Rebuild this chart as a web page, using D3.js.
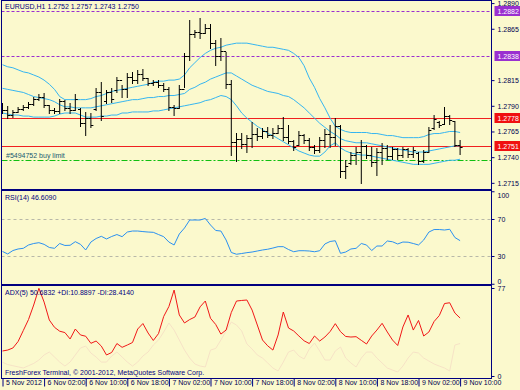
<!DOCTYPE html>
<html><head><meta charset="utf-8">
<script src="https://cdn.jsdelivr.net/npm/d3@7"></script>
<style>
html,body{margin:0;padding:0;background:#fbf9cd;}
svg{display:block;}
text{font-family:"Liberation Sans",Arial,sans-serif;font-size:7px;}
</style></head><body><svg id="c" width="520" height="390"></svg>
<script>
// ---------------- DATA ----------------
const barOpen = [1.2790,1.2786,1.2781,1.2784,1.2787,1.2789,1.2792,1.2797,1.2799,1.2791,
 1.2786,1.2785,1.2795,1.2788,1.2786,1.2787,1.2773,1.2778,1.2787,1.2803,
 1.2795,1.2803,1.2805,1.2815,1.2806,1.2818,1.2815,1.2821,1.2817,1.2812,
 1.2813,1.2810,1.2806,1.2789,1.2788,1.2806,1.2838,1.2860,1.2862,1.2861,
 1.2866,1.2851,1.2838,1.2843,1.2811,1.2755,1.2758,1.2753,1.2759,1.2763,
 1.2761,1.2765,1.2762,1.2764,1.2768,1.2760,1.2756,1.2752,1.2762,1.2757,
 1.2750,1.2747,1.2757,1.2763,1.2760,1.2770,1.2727,1.2734,1.2742,1.2745,
 1.2751,1.2742,1.2735,1.2745,1.2749,1.2741,1.2748,1.2742,1.2748,1.2743,
 1.2744,1.2736,1.2745,1.2768,1.2774,1.2772,1.2780,1.2775,1.2752];
const barHigh = [1.2793,1.2790,1.2786,1.2789,1.2791,1.2794,1.2799,1.2801,1.2802,1.2791,
 1.2788,1.2797,1.2796,1.2793,1.2801,1.2788,1.2784,1.2783,1.2807,1.2813,
 1.2805,1.2807,1.2818,1.2810,1.2822,1.2823,1.2825,1.2826,1.2817,1.2815,
 1.2815,1.2812,1.2808,1.2791,1.2810,1.2841,1.2874,1.2864,1.2875,1.2870,
 1.2870,1.2854,1.2856,1.2842,1.2815,1.2764,1.2764,1.2762,1.2774,1.2768,
 1.2768,1.2769,1.2768,1.2771,1.2779,1.2771,1.2757,1.2765,1.2763,1.2759,
 1.2752,1.2760,1.2767,1.2771,1.2778,1.2771,1.2737,1.2745,1.2750,1.2757,
 1.2752,1.2750,1.2749,1.2754,1.2752,1.2750,1.2749,1.2750,1.2749,1.2750,
 1.2745,1.2747,1.2769,1.2781,1.2775,1.2789,1.2781,1.2775,1.2757];
const barLow = [1.2783,1.2778,1.2779,1.2784,1.2786,1.2788,1.2791,1.2796,1.2789,1.2783,
 1.2783,1.2783,1.2786,1.2783,1.2786,1.2770,1.2762,1.2769,1.2786,1.2776,
 1.2793,1.2794,1.2803,1.2799,1.2799,1.2812,1.2812,1.2815,1.2810,1.2810,
 1.2808,1.2804,1.2786,1.2781,1.2788,1.2808,1.2835,1.2857,1.2856,1.2861,
 1.2846,1.2830,1.2835,1.2807,1.2742,1.2736,1.2749,1.2745,1.2750,1.2757,
 1.2759,1.2760,1.2759,1.2764,1.2757,1.2754,1.2747,1.2752,1.2754,1.2747,
 1.2744,1.2745,1.2750,1.2750,1.2752,1.2721,1.2720,1.2733,1.2733,1.2715,
 1.2739,1.2731,1.2723,1.2733,1.2738,1.2738,1.2738,1.2740,1.2740,1.2740,
 1.2733,1.2735,1.2745,1.2767,1.2769,1.2772,1.2772,1.2751,1.2743];
const barClose = [1.2786,1.2781,1.2784,1.2787,1.2789,1.2792,1.2797,1.2799,1.2791,1.2786,
 1.2785,1.2795,1.2788,1.2786,1.2797,1.2773,1.2778,1.2771,1.2803,1.2780,
 1.2803,1.2797,1.2815,1.2806,1.2818,1.2815,1.2821,1.2817,1.2812,1.2813,
 1.2810,1.2806,1.2789,1.2788,1.2806,1.2838,1.2860,1.2862,1.2861,1.2866,
 1.2851,1.2838,1.2843,1.2811,1.2755,1.2758,1.2753,1.2759,1.2763,1.2761,
 1.2765,1.2762,1.2764,1.2768,1.2760,1.2756,1.2750,1.2762,1.2757,1.2750,
 1.2747,1.2757,1.2763,1.2760,1.2770,1.2727,1.2731,1.2742,1.2745,1.2751,
 1.2742,1.2735,1.2745,1.2749,1.2741,1.2748,1.2742,1.2748,1.2743,1.2747,
 1.2736,1.2745,1.2766,1.2777,1.2771,1.2780,1.2776,1.2752,1.2750];

const bbUpper = [1.2830,1.2828,1.2827,1.2825,1.2823,1.2822,1.2820,1.2818,1.2815,1.2811,
 1.2806,1.2799,1.2796,1.2796,1.2796,1.2796,1.2796,1.2797,1.2799,1.2800,
 1.2802,1.2804,1.2805,1.2806,1.2807,1.2808,1.2809,1.2810,1.2811,1.2813,
 1.2814,1.2814,1.2815,1.2815,1.2816,1.2820,1.2827,1.2832,1.2837,1.2841,
 1.2844,1.2846,1.2847,1.2849,1.2850,1.2851,1.2851,1.2851,1.2850,1.2849,
 1.2848,1.2847,1.2847,1.2846,1.2845,1.2844,1.2841,1.2837,1.2829,1.2817,
 1.2808,1.2797,1.2788,1.2778,1.2770,1.2767,1.2765,1.2764,1.2764,1.2764,
 1.2764,1.2763,1.2763,1.2762,1.2761,1.2761,1.2760,1.2759,1.2759,1.2759,
 1.2759,1.2760,1.2762,1.2763,1.2763,1.2764,1.2765,1.2765,1.2764];
const bbMiddle = [1.2807,1.2806,1.2805,1.2804,1.2803,1.2801,1.2799,1.2798,1.2797,1.2796,
 1.2794,1.2791,1.2789,1.2789,1.2788,1.2788,1.2788,1.2788,1.2789,1.2790,
 1.2791,1.2792,1.2793,1.2794,1.2795,1.2796,1.2796,1.2797,1.2798,1.2798,
 1.2799,1.2799,1.2800,1.2800,1.2801,1.2802,1.2806,1.2808,1.2811,1.2813,
 1.2816,1.2818,1.2820,1.2822,1.2822,1.2819,1.2816,1.2813,1.2810,1.2808,
 1.2806,1.2804,1.2803,1.2802,1.2800,1.2799,1.2796,1.2792,1.2788,1.2783,
 1.2778,1.2773,1.2769,1.2765,1.2762,1.2758,1.2756,1.2755,1.2754,1.2754,
 1.2754,1.2753,1.2752,1.2751,1.2750,1.2749,1.2748,1.2747,1.2746,1.2745,
 1.2745,1.2745,1.2746,1.2747,1.2748,1.2749,1.2750,1.2751,1.2751];
const bbLower = [1.2783,1.2782,1.2781,1.2781,1.2780,1.2780,1.2779,1.2779,1.2779,1.2779,
 1.2780,1.2782,1.2783,1.2783,1.2783,1.2781,1.2779,1.2779,1.2779,1.2780,
 1.2780,1.2781,1.2781,1.2783,1.2783,1.2784,1.2784,1.2784,1.2784,1.2785,
 1.2785,1.2786,1.2787,1.2788,1.2789,1.2790,1.2791,1.2792,1.2793,1.2795,
 1.2796,1.2798,1.2800,1.2799,1.2796,1.2790,1.2783,1.2778,1.2774,1.2770,
 1.2767,1.2763,1.2761,1.2758,1.2755,1.2752,1.2749,1.2746,1.2744,1.2742,
 1.2741,1.2741,1.2745,1.2751,1.2754,1.2749,1.2746,1.2744,1.2743,1.2742,
 1.2742,1.2741,1.2740,1.2739,1.2738,1.2737,1.2736,1.2735,1.2734,1.2733,
 1.2733,1.2733,1.2733,1.2734,1.2735,1.2736,1.2737,1.2737,1.2738];

const rsiValues = [34.9,32.2,35.9,37.6,38.3,41.9,43.5,44.4,42.6,39.2,
 38.3,43.5,41.4,41.6,45.5,42.6,36.5,45.1,48.9,51.3,
 48.4,51.1,53.2,50.9,55.9,57.0,57.0,56.4,55.9,55.6,
 53.2,50.9,45.1,41.9,53.8,60.3,68.9,68.9,68.9,70.6,
 63.5,57.6,57.0,47.3,33.8,31.9,32.7,33.6,34.3,35.4,
 36.5,37.3,38.6,40.1,40.1,37.0,34.6,35.7,35.7,35.4,
 34.6,35.7,43.0,45.7,46.5,32.9,34.3,37.6,38.3,43.5,
 41.9,35.9,40.8,40.8,46.2,45.4,43.0,45.1,44.9,43.5,
 41.9,47.3,55.9,58.6,58.6,58.1,58.9,50.0,46.6];
const adxValues = [21.9,22.7,24.5,30.2,39.8,49.4,62.1,76.7,64.7,49.0,
 42.6,39.2,38.0,32.4,41.1,35.9,34.8,28.6,30.6,26.2,
 18.4,20.6,28.4,25.1,27.1,29.3,41.1,45.9,37.6,31.1,
 37.1,52.1,60.8,75.2,53.4,46.4,49.4,51.6,60.5,65.6,
 50.5,45.1,36.7,40.2,55.6,65.6,66.1,66.5,57.7,44.6,
 31.5,26.4,22.7,35.9,56.0,42.0,39.4,35.0,30.8,28.4,
 35.0,30.6,34.1,38.9,45.8,38.8,34.6,34.1,34.4,31.2,
 28.0,35.0,40.2,46.1,38.5,31.5,26.7,42.9,53.4,40.2,
 48.6,35.0,38.5,47.7,52.9,63.4,64.1,55.1,50.7];
const minusDiValues = [12,10,9,8,7,9,11,14,18.4,21.0,
 16.6,12.2,8.7,12.2,18.4,24.5,26.2,20.1,16.6,12.2,
 12.2,17.5,21.0,16.6,12.2,8.7,12.2,17.5,21.0,27.1,
 31.5,38.5,46.4,40.2,31.5,22.7,15.7,10.5,8.7,7.9,
 22.7,24.1,31.5,39.4,47.2,44.6,39.4,28.0,23.6,18.4,
 15.7,11.4,7.0,4.4,12.2,21.0,22.7,17.5,14.9,23.6,
 28.9,21.9,14.0,14.0,21.9,25.4,15.7,11.4,7.9,15.7,
 21.0,21.0,15.7,11.4,7.0,5.2,3.5,8.7,15.7,21.0,
 20.1,15.7,13.1,10.5,8.7,7.0,4.4,27.1,28.4];

const priceTicks = [1.2890,1.2865,1.2815,1.2790,1.2765,1.2740,1.2715];
const purpleLevels = [1.2882,1.2838];
const redLevels = [1.2778,1.2751];
const buyLimitLevel = 1.2737;
const rsiTicks = [100,70,30,0];
const rsiLevels = [70,30];
const adxTicks = [77,0];
const timeTickIndex = [0,8,16,24,32,40,48,56,64,72,80,88];
const timeTickLabels = ["5 Nov 2012","6 Nov 02:00","6 Nov 10:00","6 Nov 18:00","7 Nov 02:00","7 Nov 10:00","7 Nov 18:00","8 Nov 02:00","8 Nov 10:00","8 Nov 18:00","9 Nov 02:00","9 Nov 10:00"];
const titleMain = "EURUSD,H1  1.2752 1.2757 1.2743 1.2750";
const titleRsi = "RSI(14) 46.6090";
const titleAdx = "ADX(5) 50.6832 +DI:10.8897 -DI:28.4140";
const copyright = "FreshForex Terminal, \u00A9 2001-2012, MetaQuotes Software Corp.";
const orderLabel = "#5494752 buy limit";

// ---------------- LAYOUT ----------------
const svg = d3.select("#c");
const L = 1.5, R = 491.5;
const navy = "#000080";
const main = {top: 0.5, bottom: 189.5};
const rsiP = {top: 190.5, bottom: 284.5};
const adxP = {top: 285.5, bottom: 378.5};
const n = barOpen.length;
const x = d3.scaleLinear().domain([0, n - 1]).range([2.5, 460.1]);
const yP = d3.scaleLinear().domain([1.2709, 1.2893]).range([189, 0]);
const yR = d3.scaleLinear().domain([0, 100]).range([283.75, 191.25]);
const yA = d3.scaleLinear().domain([0, 77]).range([376, 288]);

svg.append("rect").attr("width",520).attr("height",390).attr("fill","#fbf9cd");

const defs = svg.append("defs");
[["cm",main],["cr",rsiP],["ca",adxP]].forEach(([id,p])=>{
  defs.append("clipPath").attr("id",id).append("rect")
    .attr("x",L).attr("y",p.top).attr("width",R-L).attr("height",p.bottom-p.top);
});

// ---- main panel ----
const gm = svg.append("g").attr("clip-path","url(#cm)");
const snap = v => Math.round(v) + 0.5;
purpleLevels.forEach(p=>{
  gm.append("line").attr("x1",L).attr("x2",R).attr("y1",snap(yP(p))).attr("y2",snap(yP(p)))
    .attr("stroke","#9a2fd0").attr("stroke-dasharray","3,2");
});
redLevels.forEach(p=>{
  gm.append("line").attr("x1",L).attr("x2",R).attr("y1",snap(yP(p))).attr("y2",snap(yP(p)))
    .attr("stroke","#f02020");
});
gm.append("line").attr("x1",L).attr("x2",R).attr("y1",snap(yP(buyLimitLevel))).attr("y2",snap(yP(buyLimitLevel)))
  .attr("stroke","#10c010").attr("stroke-dasharray","6,2,2,2");
gm.append("text").attr("x",6).attr("y",snap(yP(buyLimitLevel))-3).attr("fill","#205a70").text(orderLabel);

const bandLine = arr => d3.line().x((d,i)=>x(i)).y(d=>yP(d)).curve(d3.curveLinear)(arr);
[bbUpper,bbMiddle,bbLower].forEach(arr=>{
  gm.append("path").attr("d",bandLine(arr)).attr("fill","none").attr("stroke","#35b5f0").attr("stroke-width",1);
});

const bars = d3.range(n).map(i=>({i,o:barOpen[i],h:barHigh[i],l:barLow[i],c:barClose[i]}));
gm.selectAll("path.bar").data(bars).join("path").attr("class","bar")
  .attr("d",d=>{
    const cx = x(d.i);
    const yh = Math.round(yP(d.h)), yl = Math.round(yP(d.l))+1;
    const yo = snap(yP(d.o)), yc = snap(yP(d.c));
    return `M${cx},${yh}V${yl}M${cx-2.5},${yo}H${cx}M${cx},${yc}H${cx+2.5}`;
  })
  .attr("fill","none").attr("stroke","#000").attr("stroke-width",1);

svg.append("text").attr("x",5).attr("y",9).attr("fill",navy).text(titleMain);

// price axis
const pa = svg.append("g").attr("transform",`translate(${R},0)`)
  .call(d3.axisRight(yP).tickValues(priceTicks).tickFormat(d3.format(".4f")).tickSize(3).tickPadding(3));
pa.select(".domain").remove();
pa.selectAll("line").attr("stroke",navy);
pa.selectAll("text").attr("fill","#000050").style("font-size","7px").style("font-family","Liberation Sans, Arial");

function tag(p, color){
  const yy = Math.round(yP(p));
  svg.append("rect").attr("x",R+3).attr("y",yy-5).attr("width",26).attr("height",10).attr("fill",color);
  svg.append("text").attr("x",R+6).attr("y",yy+3).attr("fill","#fff").text(d3.format(".4f")(p));
}
purpleLevels.forEach(p=>tag(p,"#9a30d0"));
redLevels.forEach(p=>tag(p,"#f01010"));

// ---- RSI panel ----
const gr = svg.append("g").attr("clip-path","url(#cr)");
rsiLevels.forEach(v=>{
  gr.append("line").attr("x1",L).attr("x2",R).attr("y1",snap(yR(v))).attr("y2",snap(yR(v)))
    .attr("stroke","#b8b8a8").attr("stroke-dasharray","3,3");
});
gr.append("path").attr("d",d3.line().x((d,i)=>x(i)).y(d=>yR(d))(rsiValues))
  .attr("fill","none").attr("stroke","#2a90f0").attr("stroke-width",1);
svg.append("text").attr("x",5).attr("y",200).attr("fill",navy).text(titleRsi);
const ra = svg.append("g").attr("transform",`translate(${R},0)`)
  .call(d3.axisRight(yR).tickValues(rsiTicks).tickSize(3).tickPadding(3));
ra.select(".domain").remove();
ra.selectAll("line").attr("stroke",navy);
ra.selectAll("text").attr("fill","#000050").style("font-size","7px").style("font-family","Liberation Sans, Arial")
  .attr("dy",d=> d===100 ? "0.9em" : d===0 ? "-0.1em" : "0.32em");

// ---- ADX panel ----
const ga = svg.append("g").attr("clip-path","url(#ca)");
ga.append("path").attr("d",d3.line().x((d,i)=>x(i)).y(d=>yA(d))(minusDiValues))
  .attr("fill","none").attr("stroke","#f6e2c6").attr("stroke-width",1);
ga.append("path").attr("d",d3.line().x((d,i)=>x(i)).y(d=>yA(d))(adxValues))
  .attr("fill","none").attr("stroke","#f01818").attr("stroke-width",1);
svg.append("text").attr("x",5).attr("y",295).attr("fill",navy).text(titleAdx);
svg.append("text").attr("x",5).attr("y",375).attr("fill",navy).text(copyright);
const aa = svg.append("g").attr("transform",`translate(${R},0)`)
  .call(d3.axisRight(yA).tickValues(adxTicks).tickSize(3).tickPadding(3));
aa.select(".domain").remove();
aa.selectAll("line").attr("stroke",navy);
aa.selectAll("text").attr("fill","#000050").style("font-size","7px").style("font-family","Liberation Sans, Arial");

// ---- panel borders ----
[main,rsiP,adxP].forEach(p=>{
  svg.append("rect").attr("x",L).attr("y",p.top).attr("width",R-L).attr("height",p.bottom-p.top)
    .attr("fill","none").attr("stroke",navy).attr("stroke-width",1);
});

// ---- time axis ----
const ta = svg.append("g").attr("transform",`translate(0,${adxP.bottom})`)
  .call(d3.axisBottom(x).tickValues(timeTickIndex).tickFormat((d,k)=>timeTickLabels[k]).tickSize(8).tickPadding(0));
ta.select(".domain").remove();
ta.selectAll("line").attr("stroke",navy);
ta.selectAll("text").attr("fill","#000050").style("font-size","7px").style("font-family","Liberation Sans, Arial")
  .attr("text-anchor","start").attr("x",3).attr("y",2).attr("dy","0.71em");
</script></body></html>
